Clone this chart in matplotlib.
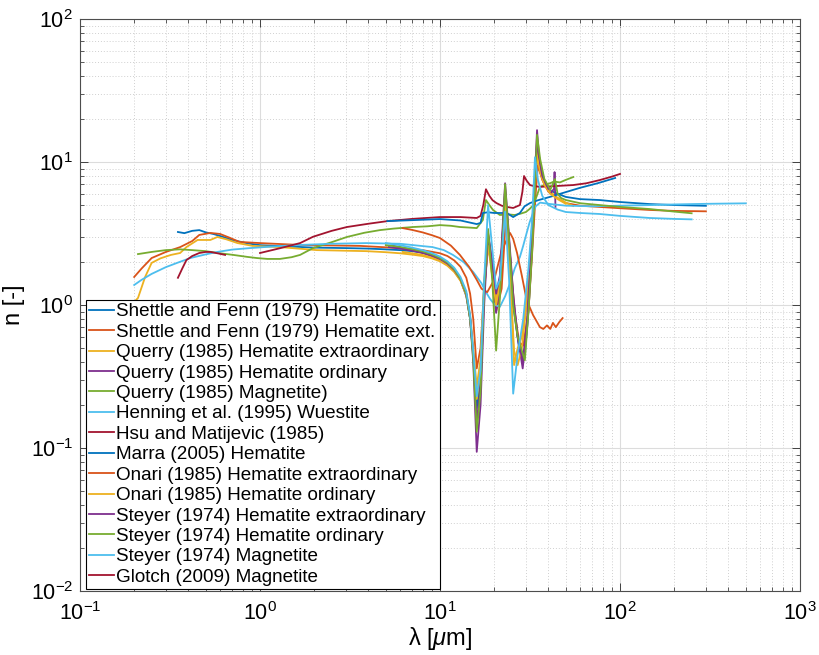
import matplotlib
matplotlib.use("Agg")
import matplotlib.pyplot as plt
from matplotlib.ticker import LogLocator, NullFormatter

plt.rcParams['font.family'] = ['Liberation Sans', 'DejaVu Sans']
plt.rcParams['mathtext.fontset'] = 'custom'
plt.rcParams['mathtext.rm'] = 'Liberation Sans'
plt.rcParams['mathtext.it'] = 'Liberation Sans:italic'

# wavelength [um] and real refractive index n for each data set
lam1 = [0.35, 0.38, 0.42, 0.46, 0.5, 0.55, 0.62, 0.7, 0.85, 1.0, 1.5, 2, 3, 4, 5, 6, 7, 8, 9, 10, 11, 12, 13, 14,
        14.7, 15.3, 16, 16.8, 17.6, 18.5, 19.5, 20.5, 21.5, 23, 24.2, 25.5, 27.5, 29.5, 31, 32.5, 33.7, 34.6, 36,
        38, 41, 45, 50, 60, 77, 100, 146, 200, 300]
n1 = [3.24, 3.18, 3.3, 3.34, 3.22, 3.14, 3.0, 2.85, 2.7, 2.62, 2.56, 2.52, 2.5, 2.48, 2.45, 2.42, 2.38, 2.32, 2.22,
      2.1, 1.95, 1.75, 1.5, 1.15, 0.8, 0.45, 0.19, 0.3, 1.4, 3.1, 2.0, 1.0, 1.4, 6.2, 2.6, 1.0, 0.5, 0.43, 0.9, 2.5,
      6.0, 11.5, 8.5, 7.0, 6.3, 6.0, 5.7, 5.5, 5.42, 5.25, 5.08, 5.0, 4.94]

lam2 = [0.2, 0.22, 0.25, 0.3, 0.36, 0.42, 0.46, 0.53, 0.6, 0.68, 0.77, 1.0, 1.67, 3.6, 4.5, 6, 8, 10, 11, 12, 13,
        14, 14.7, 15.3, 16, 16.8, 17.6, 18.5, 19.5, 20.5, 22, 23.2, 24.5, 26, 27.5, 29, 31, 32.5, 34, 35, 37, 40,
        45, 50, 60, 77, 100, 146, 200, 300]
n2 = [1.57, 1.8, 2.13, 2.35, 2.54, 2.8, 3.09, 3.19, 3.14, 2.95, 2.76, 2.71, 2.63, 2.59, 2.55, 2.5, 2.42, 2.3, 2.2,
      2.05, 1.85, 1.55, 1.2, 0.8, 0.36, 0.5, 1.3, 2.6, 1.8, 0.9, 1.3, 4.0, 2.2, 0.9, 0.55, 0.52, 0.9, 2.3, 6.0,
      9.5, 7.5, 6.2, 5.6, 5.16, 4.95, 4.85, 4.75, 4.62, 4.55, 4.52]

lam3 = [0.2, 0.21, 0.23, 0.25, 0.28, 0.32, 0.36, 0.39, 0.45, 0.53, 0.58, 0.65, 0.75, 0.91, 1.29, 2.07, 3.9, 5, 6,
        7, 8, 9, 10, 11, 12, 13, 14, 14.7, 15.3, 16, 16.8, 17.6, 18.5, 19.5, 20.5, 21.5, 23, 24.2, 25.8, 27, 28.5,
        30, 31.5, 33, 34.6, 36, 38, 41, 45, 50, 55]
n3 = [1.05, 1.12, 1.57, 1.97, 2.12, 2.24, 2.31, 2.54, 2.85, 2.85, 2.99, 2.88, 2.71, 2.59, 2.54, 2.42, 2.38, 2.34,
      2.3, 2.25, 2.2, 2.12, 2.02, 1.88, 1.7, 1.48, 1.18, 0.85, 0.5, 0.27, 0.42, 1.5, 2.8, 1.7, 1.1, 1.5, 5.5, 2.4,
      0.38, 0.5, 0.6, 1.0, 2.0, 5.0, 12.5, 9.0, 7.2, 6.2, 5.6, 5.2, 4.93]

lam4 = [5.2, 6, 7, 8, 9, 10, 11, 12, 13, 14, 14.7, 15.3, 16, 16.8, 17.6, 18.5, 19.5, 20.5, 21.5, 23, 24.2, 25.5,
        27, 28.8, 30.5, 32, 33.5, 34.6, 36, 38, 41, 43, 43.3, 43.8]
n4 = [2.54, 2.48, 2.4, 2.31, 2.2, 2.06, 1.92, 1.74, 1.5, 1.18, 0.82, 0.45, 0.15, 0.28, 1.2, 2.9, 1.8, 0.88, 1.4,
      6.5, 2.8, 1.1, 0.6, 0.36, 0.7, 2.0, 6.5, 14.0, 9.5, 7.0, 6.0, 6.5, 8.5, 4.85]

lam5 = [0.21, 0.25, 0.3, 0.36, 0.42, 0.5, 0.6, 0.71, 0.85, 0.96, 1.1, 1.29, 1.5, 1.67, 1.97, 2.5, 3.04, 3.8, 4.64,
        5.5, 7.07, 8.5, 10, 11.5, 12.9, 14.5, 16, 17.3, 18, 18.8, 19.7, 21.5, 24, 26, 28, 30, 31.5, 33, 34.5, 35.9,
        38, 40.8, 43, 46.4, 50, 55]
n5 = [2.27, 2.35, 2.42, 2.45, 2.42, 2.38, 2.3, 2.24, 2.17, 2.13, 2.1, 2.1, 2.16, 2.24, 2.5, 2.75, 2.99, 3.2, 3.34,
      3.42, 3.51, 3.55, 3.62, 3.58, 3.51, 3.48, 3.45, 3.93, 5.42, 5.0, 4.62, 4.26, 4.3, 4.26, 4.35, 4.47, 4.7,
      5.0, 5.8, 6.7, 6.9, 7.1, 7.3, 7.2, 7.5, 7.85]

lam6 = [0.2, 0.22, 0.25, 0.3, 0.35, 0.41, 0.5, 0.58, 0.7, 0.88, 1.2, 1.67, 2.5, 3.9, 6, 9.1, 10.5, 11.8, 13.5,
        15.3, 17, 18, 19, 20.2, 21.5, 23, 24.5, 26, 27.8, 29, 30.3, 31.5, 32.9, 34, 36, 40, 50, 70, 100, 150, 200,
        300, 500]
n6 = [1.38, 1.5, 1.65, 1.84, 1.98, 2.13, 2.26, 2.35, 2.44, 2.5, 2.57, 2.63, 2.68, 2.71, 2.68, 2.54, 2.42, 2.24,
      2.0, 1.7, 1.42, 1.23, 1.1, 1.0, 0.97, 1.15, 1.42, 1.8, 2.17, 2.6, 3.19, 3.8, 4.4, 4.9, 5.2, 5.1, 4.95, 4.9,
      4.95, 5.0, 5.05, 5.1, 5.14]

lam7 = [1.0, 1.3, 1.67, 1.97, 2.5, 3.04, 4, 5.1, 7, 10, 13, 16, 16.8, 17.4, 18, 18.8, 19.6, 20.6, 22, 23.5, 25.5,
        27.8, 28.7, 29.3, 30.3, 31.6, 33, 35.9, 40, 45, 55, 65, 77, 90, 100]
n7 = [2.31, 2.5, 2.71, 3.0, 3.3, 3.51, 3.7, 3.86, 4.0, 4.12, 4.12, 4.06, 4.2, 5.0, 6.45, 5.8, 5.4, 5.16, 4.95,
      4.85, 4.77, 5.0, 6.2, 7.98, 7.4, 6.9, 6.8, 6.7, 6.75, 6.8, 6.9, 7.1, 7.47, 7.9, 8.25]

lam8 = [5.1, 7, 10, 13, 16, 16.8, 17.3, 18.5, 20, 23.5, 25.5, 27.8, 29.5, 31.6, 35, 40.8, 50, 60, 75, 94]
n8 = [3.86, 3.92, 3.99, 3.9, 3.68, 3.75, 4.4, 4.45, 4.4, 4.4, 4.12, 4.4, 4.9, 5.16, 5.4, 5.7, 6.16, 6.6, 7.1, 7.73]

lam9 = [6.2, 7, 8, 9, 10, 11.5, 12.9, 14.5, 16, 17, 18.3, 20, 22, 24.5, 25.5, 26.8, 28.5, 30.3, 32.9, 35.9, 37.5,
        39.3, 41, 42.4, 44, 46, 48]
n9 = [3.45, 3.35, 3.22, 3.08, 2.94, 2.6, 2.24, 1.85, 1.5, 1.3, 1.23, 1.5, 2.4, 3.19, 2.9, 2.31, 1.6, 1.08, 0.85,
      0.7, 0.68, 0.72, 0.68, 0.75, 0.7, 0.76, 0.81]

lam10 = [6.2, 7, 8, 9, 10, 11, 12, 13, 14, 14.7, 15.3, 16, 16.8, 17.6, 18.5, 19.5, 20.5, 21.5, 23, 24.2, 25.8, 27,
         28.5, 30, 31.5, 33, 34.6, 36, 38, 41, 45, 50]
n10 = [2.35, 2.3, 2.24, 2.15, 2.05, 1.9, 1.72, 1.48, 1.17, 0.8, 0.45, 0.22, 0.35, 1.3, 2.6, 1.6, 1.0, 1.4, 5.8, 2.2,
       0.48, 0.38, 0.5, 0.9, 2.0, 4.8, 11.0, 8.5, 6.9, 6.0, 5.5, 5.1]

lam11 = [5.5, 6, 7, 8, 9, 10, 11, 12, 13, 14, 14.7, 15.3, 16, 16.8, 17.6, 18.5, 19.5, 20.5, 21.5, 23, 24.2, 25.5,
         27, 28.8, 30.5, 32, 33.5, 34.6, 35.5, 37, 40]
n11 = [2.6, 2.52, 2.42, 2.33, 2.22, 2.1, 1.95, 1.76, 1.52, 1.2, 0.8, 0.4, 0.094, 0.2, 1.0, 3.2, 2.0, 1.2, 1.6, 7.1,
       3.0, 1.2, 0.6, 0.4, 0.8, 2.3, 7.0, 16.7, 11.0, 8.0, 6.5]

lam12 = [5, 6, 7, 8, 9, 10, 11, 12, 13, 14, 14.7, 15.3, 16, 16.8, 17.6, 18.5, 19.5, 20.5, 21.5, 23, 24.2, 25.5, 27,
         29.6, 31, 32.5, 33.7, 34.6, 36, 38, 41, 43.5, 45, 47, 50, 60, 77, 100, 146, 200, 250]
n12 = [2.62, 2.55, 2.46, 2.37, 2.26, 2.13, 1.98, 1.78, 1.52, 1.2, 0.8, 0.42, 0.13, 0.25, 1.3, 3.4, 1.5, 0.48, 1.1,
       7.0, 2.8, 1.0, 0.6, 0.41, 0.9, 2.4, 7.0, 15.5, 10.5, 7.6, 6.4, 7.6, 6.0, 5.6, 5.42, 5.15, 5.0, 4.85, 4.69,
       4.5, 4.38]

lam13 = [5, 6, 7, 8, 9, 10, 11, 12, 13, 14, 14.7, 15.3, 16, 16.8, 17.6, 18.5, 19.5, 20.5, 21.5, 23, 24.2, 25.5, 27,
         29, 31, 32.5, 33.7, 35, 37, 40, 45, 50, 60, 77, 100, 146, 200, 250]
n13 = [2.71, 2.62, 2.52, 2.42, 2.31, 2.18, 2.02, 1.82, 1.57, 1.25, 0.85, 0.48, 0.23, 0.35, 1.5, 5.0, 2.5, 1.3, 1.5,
       4.5, 1.5, 0.24, 0.45, 0.8, 1.8, 4.0, 10.8, 7.5, 5.8, 5.0, 4.65, 4.47, 4.4, 4.33, 4.2, 4.06, 4.0, 3.97]

lam14 = [0.35, 0.37, 0.39, 0.42, 0.46, 0.5, 0.53, 0.58, 0.64]
n14 = [1.55, 1.8, 2.06, 2.2, 2.31, 2.35, 2.35, 2.3, 2.24]

labels = [
    'Shettle and Fenn (1979) Hematite ord.',
    'Shettle and Fenn (1979) Hematite ext.',
    'Querry (1985) Hematite extraordinary',
    'Querry (1985) Hematite ordinary',
    'Querry (1985) Magnetite)',
    'Henning et al. (1995) Wuestite',
    'Hsu and Matijevic (1985)',
    'Marra (2005) Hematite',
    'Onari (1985) Hematite extraordinary',
    'Onari (1985) Hematite ordinary',
    'Steyer (1974) Hematite extraordinary',
    'Steyer (1974) Hematite ordinary',
    'Steyer (1974) Magnetite',
    'Glotch (2009) Magnetite',
]

lams = [lam1, lam2, lam3, lam4, lam5, lam6, lam7, lam8, lam9, lam10, lam11, lam12, lam13, lam14]
ns = [n1, n2, n3, n4, n5, n6, n7, n8, n9, n10, n11, n12, n13, n14]

# default MATLAB line colour order
colors = ['#0072BD', '#D95319', '#EDB120', '#7E2F8E', '#77AC30', '#4DBEEE', '#A2142F']

fig = plt.figure(figsize=(8.2, 6.55), dpi=100)
ax = fig.add_axes([80 / 820, 1 - 591 / 655, 720 / 820, 572 / 655])

for i, (x, y, lab) in enumerate(zip(lams, ns, labels)):
    ax.loglog(x, y, color=colors[i % len(colors)], lw=1.3, label=lab)

ax.set_xlim(0.1, 1000)
ax.set_ylim(0.01, 100)

ax.xaxis.set_major_locator(LogLocator(base=10, numticks=10))
ax.yaxis.set_major_locator(LogLocator(base=10, numticks=10))
ax.xaxis.set_minor_locator(LogLocator(base=10, subs=range(2, 10), numticks=20))
ax.yaxis.set_minor_locator(LogLocator(base=10, subs=range(2, 10), numticks=20))
ax.xaxis.set_minor_formatter(NullFormatter())
ax.yaxis.set_minor_formatter(NullFormatter())

ax.grid(True, which='major', color='#dcdcdc', lw=0.8, ls='-')
ax.grid(True, which='minor', color='#d0d0d0', lw=0.7, ls=(0, (1, 2)))
ax.set_axisbelow(True)

ax.tick_params(which='both', direction='in', top=True, right=True, colors='0.25', labelcolor='black',
               labelsize=15.5)
ax.tick_params(which='major', length=6, width=0.7)
ax.tick_params(which='minor', length=3, width=0.6)
ax.tick_params(axis='x', which='major', pad=8)
ax.tick_params(axis='y', which='major', pad=5)
for sp in ax.spines.values():
    sp.set_color('0.3')
    sp.set_linewidth(0.8)

ax.set_xlabel('λ [$\\mu$m]', fontsize=17, labelpad=0)
ax.set_ylabel('n [-]', fontsize=17, labelpad=4)

leg = ax.legend(loc='lower left', bbox_to_anchor=(0.009, 0.004), borderaxespad=0, fontsize=13.6,
                labelspacing=0.17, handlelength=1.3, handletextpad=0.1, borderpad=0.15, fancybox=False,
                framealpha=1, edgecolor='black')
leg.get_frame().set_linewidth(0.8)

fig.savefig('out.png', dpi=100)
